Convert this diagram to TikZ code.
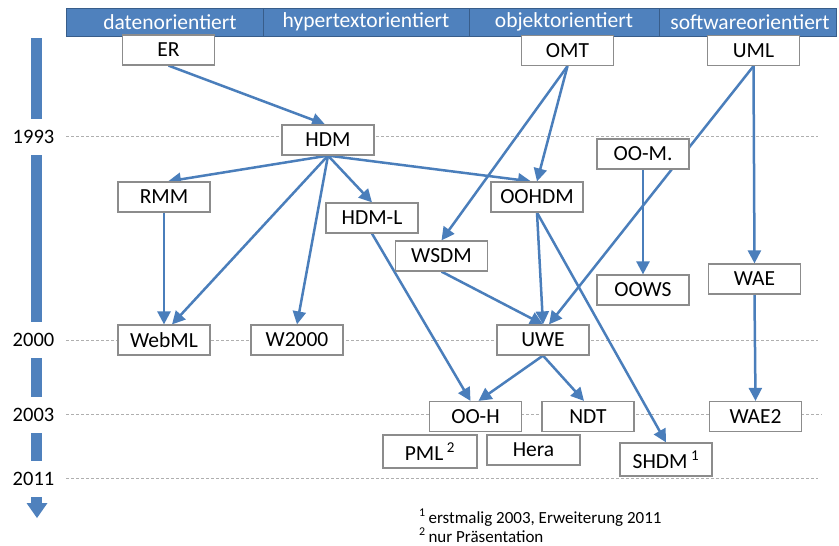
\documentclass[tikz,border=0pt]{standalone}
\usepackage{fontspec}
\setmainfont{Carlito}
\usetikzlibrary{arrows.meta,backgrounds}
\definecolor{barblue}{RGB}{79,129,189}
\definecolor{barborder}{RGB}{56,93,138}
\definecolor{linkblue}{RGB}{74,126,187}
\definecolor{boxgray}{RGB}{140,140,140}
\definecolor{gridgray}{RGB}{175,175,175}
\tikzset{
  model/.style={draw=boxgray, line width=1.2pt, fill=white, minimum width=92pt,
    minimum height=30pt, inner sep=0pt, font=\fontsize{21.5pt}{25pt}\selectfont},
  headcell/.style={draw=barborder, line width=1pt, fill=barblue, minimum height=28pt,
    inner sep=0pt},
  headtext/.style={text=white, inner sep=0pt, font=\fontsize{21.5pt}{25pt}\selectfont},
  yearlabel/.style={fill=white, minimum height=36pt, inner sep=2pt,
    font=\fontsize{20.5pt}{24pt}\selectfont},
  yearline/.style={gridgray, line width=0.8pt, dash pattern=on 3pt off 2pt},
  link/.style={linkblue, line width=2.5pt, -{Triangle[length=13pt,width=13pt]}},
  footnote/.style={anchor=base west, inner sep=0pt, font=\fontsize{17pt}{20pt}\selectfont}
}
\begin{document}
\begin{tikzpicture}[x=1pt,y=-1pt]
\useasboundingbox (0,0) rectangle (839,546);

% column headers
\node[headcell, minimum width=197pt] (c1) at (164.5,22) {};
\node[headcell, minimum width=206pt] (c2) at (366,22) {};
\node[headcell, minimum width=190pt] (c3) at (564,22) {};
\node[headcell, minimum width=177pt] (c4) at (747.5,22) {};
\node[headtext] (t1) at (170,22) {datenorientiert};
\node[headtext] (t2) at (366,22) {hypertextorientiert};
\node[headtext] (t3) at (564,22) {objektorientiert};
\node[headtext] (t4) at (750,22) {softwareorientiert};

% time axis
\fill[barblue] (31,38) rectangle (42,504);
\fill[barblue] (26.5,503) -- (47.5,503) -- (37,518) -- cycle;
\node[yearlabel] (y1993) at (33.5,136.5) {1993};
\node[yearlabel] (y2000) at (33.5,340) {2000};
\node[yearlabel] (y2003) at (33.5,414.5) {2003};
\node[yearlabel] (y2011) at (33.5,478.5) {2011};

% models
\node[model] (er) at (168.5,50) {ER};
\node[model] (omt) at (567.5,50.5) {OMT};
\node[model] (uml) at (753.5,50.5) {UML};
\node[model] (hdm) at (328,140) {HDM};
\node[model] (rmm) at (164,197) {RMM};
\node[model] (hdml) at (372,218) {HDM-L};
\node[model] (oom) at (643,154) {OO-M.};
\node[model] (oohdm) at (537,197) {OOHDM};
\node[model] (wsdm) at (441.5,256) {WSDM};
\node[model] (oows) at (643,290) {OOWS};
\node[model] (wae) at (754.5,279) {WAE};
\node[model] (webml) at (164,340) {WebML};
\node[model] (wtk) at (297,340) {W2000};
\node[model] (uwe) at (543,340) {UWE};
\node[model] (ooh) at (475.5,416.5) {OO-H};
\node[model] (ndt) at (588,416.5) {NDT};
\node[model] (wae2) at (755.5,416.5) {WAE2};
\node[model, minimum width=94pt, minimum height=33pt] (pml) at (430,451.5) {PML\,\textsuperscript{2}};
\node[model, minimum width=93pt] (hera) at (533.5,450) {Hera};
\node[model, minimum height=33pt] (shdm) at (666,459.5) {SHDM\,\textsuperscript{1}};

% footnotes
\node[footnote] (fn1) at (419,523) {\textsuperscript{1}\,erstmalig 2003, Erweiterung 2011};
\node[footnote] (fn2) at (419,542) {\textsuperscript{2}\,nur Präsentation};

\begin{scope}[on background layer]
  \fill[white] (0,0) rectangle (839,546);

  % year grid lines
  \draw[yearline] (y1993.east) ++(10pt,0) -- (818,136.5);
  \draw[yearline] (y2000.east) ++(10pt,0) -- (818,340);
  \draw[yearline] (y2003.east) ++(10pt,0) -- (822,414.5);
  \draw[yearline] (y2011.east) ++(10pt,0) -- (818,478.5);

  % derivation links
  \draw[link] (er.south) -- ([xshift=-3pt]hdm.north);
  \draw[link] (hdm.south) -- ([xshift=4pt]rmm.north);
  \draw[link] (hdm.south) -- ([xshift=8pt]webml.north);
  \draw[link] (rmm.south) -- (webml.north);
  \draw[link] (hdm.south) -- (wtk.north);
  \draw[link] (hdm.south) -- (hdml.north);
  \draw[link] (hdm.south) -- ([xshift=-6pt]oohdm.north);
  \draw[link] (omt.south) -- (oohdm.north);
  \draw[link] (omt.south) -- (wsdm.north);
  \draw[link] (uml.south) -- ([xshift=6pt]uwe.north);
  \draw[link] (uml.south) -- (wae.north);
  \draw[link] (oom.south) -- (oows.north);
  \draw[link] (oohdm.south) -- (uwe.north);
  \draw[link] (oohdm.south) -- (shdm.north);
  \draw[link] (wsdm.south) -- (uwe.north);
  \draw[link] (hdml.south) -- ([xshift=-5pt]ooh.north);
  \draw[link] (uwe.south) -- ([xshift=3pt]ooh.north);
  \draw[link] (uwe.south) -- ([xshift=-4pt]ndt.north);
  \draw[link] (wae.south) -- (wae2.north);
\end{scope}
\end{tikzpicture}
\end{document}
